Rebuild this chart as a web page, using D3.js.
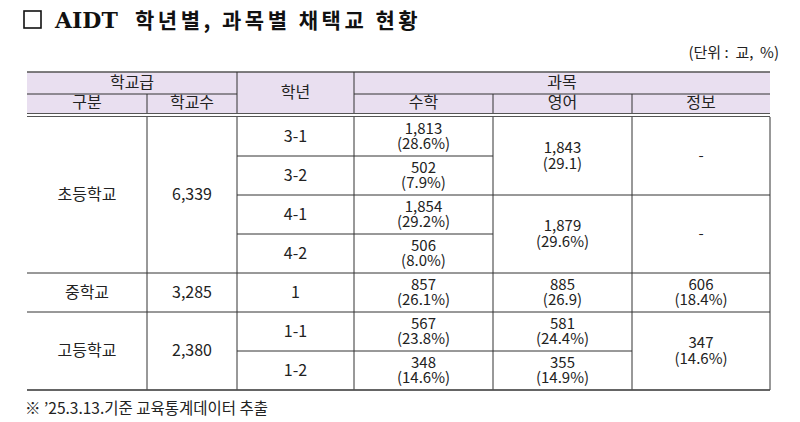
<!DOCTYPE html>
<html><head><meta charset="utf-8">
<script src="https://cdn.jsdelivr.net/npm/d3@7"></script>
<style>body{margin:0;background:#fff}text{font-family:"Noto Sans CJK KR","Noto Sans",sans-serif;fill:#222}</style>
</head><body><svg id="c" width="800" height="422"></svg>
<script>
"use strict";
// data, one entry per body row; merged cells carry a span, covered rows are null
var schools = [["초등학교", "6,339", 4], null, null, null, ["중학교", "3,285", 1], ["고등학교", "2,380", 2], null];
var grades = ["3-1", "3-2", "4-1", "4-2", "1", "1-1", "1-2"];
var math = [["1,813", "(28.6%)"], ["502", "(7.9%)"], ["1,854", "(29.2%)"], ["506", "(8.0%)"], ["857", "(26.1%)"], ["567", "(23.8%)"], ["348", "(14.6%)"]];
var english = [[["1,843", "(29.1)"], 2], null, [["1,879", "(29.6%)"], 2], null, [["885", "(26.9)"], 1], [["581", "(24.4%)"], 1], [["355", "(14.9%)"], 1]];
var info = [[["-"], 2], null, [["-"], 2], null, [["606", "(18.4%)"], 1], [["347", "(14.6%)"], 2], null];

var svg = d3.select("#c");
var colX = [27, 147, 237, 354, 493, 632, 770];
var bodyTop = 117, rowH = 39;
var y = d3.scaleLinear().domain([0, grades.length]).range([bodyTop, bodyTop + rowH * grades.length]);

// title and unit
svg.append("rect").attr("x", 24).attr("y", 11).attr("width", 17).attr("height", 17).attr("fill", "none").attr("stroke", "#111").attr("stroke-width", 1.6);
svg.append("text").attr("x", 55).attr("y", 28).style("font-size", "22px").style("font-weight", "bold").style("font-family", "'DejaVu Serif',serif").style("fill", "#111").text("AIDT");
svg.append("text").attr("x", 135).attr("y", 28).style("font-size", "21px").style("font-weight", "bold").style("fill", "#111").attr("letter-spacing", 3.5).text("학년별, 과목별 채택교 현황");
svg.append("text").attr("x", 779).attr("y", 58).attr("text-anchor", "end").style("font-size", "15px").attr("xml:space", "preserve").text("(단위 :  교,  %)");

// header
svg.append("rect").attr("x", colX[0]).attr("y", 72).attr("width", colX[6] - colX[0]).attr("height", 42).attr("fill", "#e9dff0");
function cellText(x0, x1, yc, lines, size) {
	var t = svg.append("text").attr("text-anchor", "middle").style("font-size", (size || 15) + "px");
	var lh = 15.5;
	lines.forEach(function(s, i) {
		t.append("tspan").attr("x", (x0 + x1) / 2).attr("y", yc + 5 + (i - (lines.length - 1) / 2) * lh).text(s);
	});
}
cellText(colX[0], colX[2], 83, ["학교급"], 16);
cellText(colX[0], colX[1], 103, ["구분"], 16);
cellText(colX[1], colX[2], 103, ["학교수"], 16);
cellText(colX[2], colX[3], 93, ["학년"], 16);
cellText(colX[3], colX[6], 83, ["과목"], 16);
cellText(colX[3], colX[4], 103, ["수학"], 16);
cellText(colX[4], colX[5], 103, ["영어"], 16);
cellText(colX[5], colX[6], 103, ["정보"], 16);

function hline(x0, x1, yy, w, c) {
	svg.append("line").attr("x1", x0).attr("x2", x1).attr("y1", yy).attr("y2", yy).attr("stroke", c || "#333").attr("stroke-width", w || 1);
}
function vline(x, y0, y1) {
	svg.append("line").attr("x1", x).attr("x2", x).attr("y1", y0).attr("y2", y1).attr("stroke", "#333").attr("stroke-width", 1);
}
hline(colX[0], colX[6], 72, 1.5, "#555");
hline(colX[0], colX[2], 94);
hline(colX[3], colX[6], 94);
vline(colX[1], 94, 114);
vline(colX[4], 94, 114);
vline(colX[5], 94, 114);
vline(colX[2], 72, 114);
vline(colX[3], 72, 114);
hline(colX[0], colX[6], 113.5, 1, "#555");
hline(colX[0], colX[6], 116.5, 1, "#555");

// body cells
function spanCells(arr, c0, c1, fn) {
	arr.forEach(function(d, i) {
		if (!d) return;
		var span = d[d.length - 1];
		cellText(colX[c0], colX[c1], (y(i) + y(i + span)) / 2, fn(d));
		vline(colX[c1], y(i), y(i + span));
		hline(colX[c0], colX[c1], y(i + span));
	});
}
schools.forEach(function(d, i) {
	if (!d) return;
	var yc = (y(i) + y(i + d[2])) / 2;
	cellText(colX[0], colX[1], yc, [d[0]], 16);
	cellText(colX[1], colX[2], yc, [d[1]], 16);
	vline(colX[1], y(i), y(i + d[2]));
	vline(colX[2], y(i), y(i + d[2]));
	hline(colX[0], colX[2], y(i + d[2]));
});
grades.forEach(function(g, i) {
	cellText(colX[2], colX[3], (y(i) + y(i + 1)) / 2, [g], 16);
	vline(colX[3], y(i), y(i + 1));
	hline(colX[2], colX[3], y(i + 1));
});
math.forEach(function(m, i) {
	cellText(colX[3], colX[4], (y(i) + y(i + 1)) / 2, m);
	vline(colX[4], y(i), y(i + 1));
	hline(colX[3], colX[4], y(i + 1));
});
spanCells(english, 4, 5, function(d) { return d[0]; });
spanCells(info, 5, 6, function(d) { return d[0]; });
hline(colX[0], colX[6], y(grades.length), 1.5, "#555");

svg.append("text").attr("x", 25).attr("y", 414).style("font-size", "15.5px").text("※ ’25.3.13.기준 교육통계데이터 추출");
</script></body></html>
